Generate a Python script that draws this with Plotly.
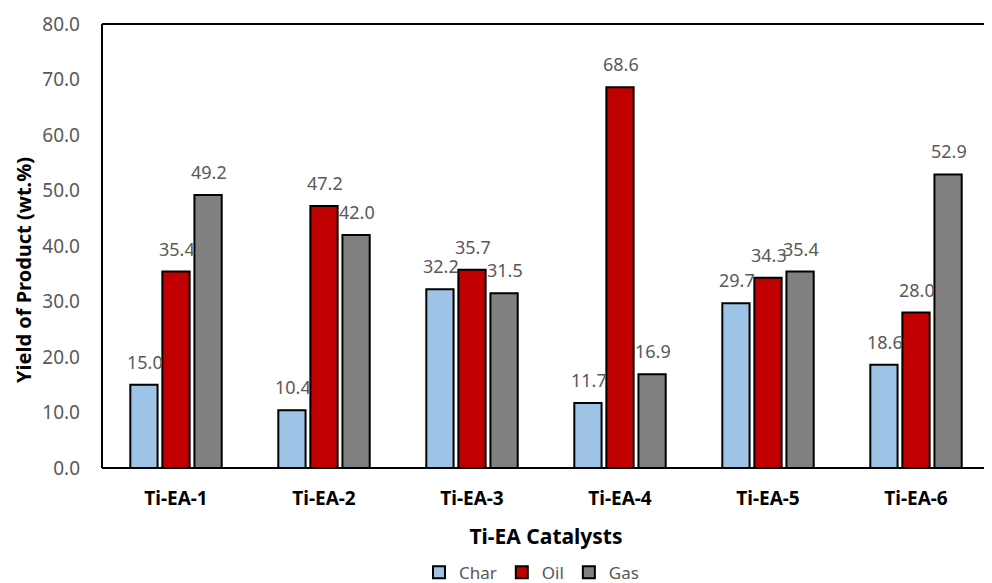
import plotly.graph_objects as go

categories = ["Ti-EA-1", "Ti-EA-2", "Ti-EA-3", "Ti-EA-4", "Ti-EA-5", "Ti-EA-6"]
char_vals = [15.0, 10.4, 32.2, 11.7, 29.7, 18.6]
oil_vals = [35.4, 47.2, 35.7, 68.6, 34.3, 28.0]
gas_vals = [49.2, 42.0, 31.5, 16.9, 35.4, 52.9]
y_ticks = [0, 10, 20, 30, 40, 50, 60, 70, 80]

series = [("Char", char_vals, "#9DC3E6"),
          ("Oil", oil_vals, "#C00000"),
          ("Gas", gas_vals, "#808080")]

FONT = "Noto Sans"
GRAY = "#595959"

# page body has an 8px margin, so the figure is 8px smaller and shifted
W, H = 984, 575
ML, MR, MT, MB = 94, 2, 16, 115
BARGAP = 0.35

fig = go.Figure()
for name, vals, color in series:
    fig.add_trace(go.Bar(
        x=categories, y=vals, name=name,
        marker=dict(color=color, line=dict(color="black", width=2)),
        cliponaxis=False,
    ))

# value labels above each bar, offset within the group
plot_w = W - ML - MR
slot = plot_w / len(categories) * (1 - BARGAP) / len(series)
annotations = []
for i, (name, vals, color) in enumerate(series):
    for cat, v in zip(categories, vals):
        annotations.append(dict(
            x=cat, y=v, xref="x", yref="y", text=f"{v:.1f}", showarrow=False,
            xshift=(i - 1) * slot + 1, yshift=23, yanchor="middle",
            font=dict(color=GRAY, size=18, family=FONT),
        ))
annotations.append(dict(
    text="<b>Yield of Product (wt.%)</b>", textangle=-90, showarrow=False,
    xref="paper", yref="paper", x=0, y=(H - MB - 270 + 8) / (H - MT - MB),
    xshift=-(ML + 8 - 23), xanchor="center", yanchor="middle",
    font=dict(size=20, color="black", family=FONT),
))

fig.update_layout(
    width=W, height=H,
    margin=dict(l=ML, r=MR, t=MT, b=MB),
    plot_bgcolor="white", paper_bgcolor="white",
    barmode="group", bargap=BARGAP, bargroupgap=0.15,
    font=dict(family=FONT, color=GRAY, size=16),
    xaxis=dict(
        showline=False, showgrid=False, ticks="", automargin=False,
        ticklabelstandoff=17,
        tickfont=dict(family=FONT, size=19, color="black", weight="bold"),
        title=dict(text="<b>Ti-EA Catalysts</b>", font=dict(size=21, color="black", family=FONT), standoff=19),
    ),
    yaxis=dict(
        range=[0, 80], tickvals=y_ticks, tickformat=".1f", automargin=False,
        showgrid=False, showline=False, zeroline=False, ticks="",
        ticklabelstandoff=21,
        tickfont=dict(family=FONT, size=19, color=GRAY),
    ),
    legend=dict(
        orientation="h", xref="container", yref="container",
        x=0.532, xanchor="center", y=0.018, yanchor="middle",
        font=dict(size=17, color=GRAY, family=FONT),
        itemwidth=30, tracegroupgap=0,
    ),
    annotations=annotations,
    shapes=[
        dict(type="line", xref="paper", yref="paper", x0=0, x1=0, y0=0, y1=1, line=dict(color="black", width=2)),
        dict(type="line", xref="paper", yref="paper", x0=0, x1=1.01, y0=1, y1=1, line=dict(color="black", width=2)),
        dict(type="line", xref="paper", yref="paper", x0=0, x1=1.01, y0=0, y1=0, line=dict(color="black", width=2)),
    ],
)

fig.write_html("out.html")
